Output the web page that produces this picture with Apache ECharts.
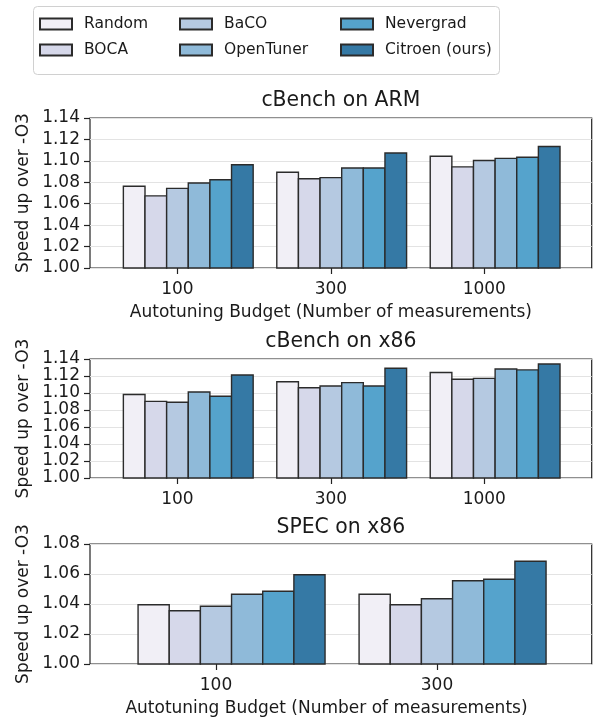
<!DOCTYPE html>
<html>
<head>
<meta charset="utf-8">
<script src="https://cdn.jsdelivr.net/npm/echarts@6/dist/echarts.min.js"></script>
<style>
html,body{margin:0;padding:0;background:#fff;}
#chart{width:596px;height:719px;}
</style>
</head>
<body>
<div id="chart"></div>
<script>
// ---- data ----
const methods = ['Random', 'BOCA', 'BaCO', 'OpenTuner', 'Nevergrad', 'Citroen (ours)'];
const colors = ['#f1eff6', '#d6d8ea', '#b5c9e1', '#8fbad9', '#55a3cc', '#3579a5'];

const cbenchBudgets = ['100', '300', '1000'];
const specBudgets = ['100', '300'];

const armTicks = ['1.00', '1.02', '1.04', '1.06', '1.08', '1.10', '1.12', '1.14'];
const specTicks = ['1.00', '1.02', '1.04', '1.06', '1.08'];

// cBench on ARM
const armRandom    = [1.077, 1.090, 1.105];
const armBOCA      = [1.068, 1.084, 1.095];
const armBaCO      = [1.075, 1.085, 1.101];
const armOpenTuner = [1.080, 1.094, 1.103];
const armNevergrad = [1.083, 1.094, 1.104];
const armCitroen   = [1.097, 1.108, 1.114];

// cBench on x86
const x86Random    = [1.099, 1.114, 1.125];
const x86BOCA      = [1.091, 1.107, 1.117];
const x86BaCO      = [1.090, 1.109, 1.118];
const x86OpenTuner = [1.102, 1.113, 1.129];
const x86Nevergrad = [1.097, 1.109, 1.128];
const x86Citroen   = [1.122, 1.130, 1.135];

// SPEC on x86
const specRandom    = [1.040, 1.047];
const specBOCA      = [1.036, 1.040];
const specBaCO      = [1.039, 1.044];
const specOpenTuner = [1.047, 1.056];
const specNevergrad = [1.049, 1.057];
const specCitroen   = [1.060, 1.069];

// ---- layout ----
const FONT = 'DejaVu Sans';
const TXT = '#1a1a1a';
const frameLeft = 90, frameRight = 4.3, frameW = 596 - frameLeft - frameRight;
const BORDER = 1.4;

const panels = [
  { title: 'cBench on ARM', top: 118, height: 150, cats: cbenchBudgets, min: 1.0, max: 1.14,
    ticks: armTicks,
    values: [armRandom, armBOCA, armBaCO, armOpenTuner, armNevergrad, armCitroen], xname: true, titleTop: 91 },
  { title: 'cBench on x86', top: 359, height: 119, cats: cbenchBudgets, min: 1.0, max: 1.14,
    ticks: armTicks,
    values: [x86Random, x86BOCA, x86BaCO, x86OpenTuner, x86Nevergrad, x86Citroen], xname: false, titleTop: 332 },
  { title: 'SPEC on x86', top: 544, height: 120, cats: specBudgets, min: 1.0, max: 1.08,
    ticks: specTicks,
    values: [specRandom, specBOCA, specBaCO, specOpenTuner, specNevergrad, specCitroen], xname: true, titleTop: 518 }
];

const grid = [], xAxis = [], yAxis = [], series = [], title = [];

panels.forEach((p, pi) => {
  const n = p.cats.length;
  // axis units: xlim = (-0.57, n-1+0.70)
  const span = (n - 1) + 0.57 + 0.70;
  const unit = frameW / span;
  const barsLeft = frameLeft + (0.57 - 0.5) * unit;
  const barsW = n * unit;
  const pitch = 0.141 * unit;
  const barW = pitch + BORDER;
  const barGap = (-BORDER / barW * 100).toFixed(3) + '%';
  const gA = pi * 2, gB = pi * 2 + 1;

  grid.push({ left: frameLeft, width: frameW, top: p.top, height: p.height,
    show: true, borderColor: '#222', borderWidth: 1.2, backgroundColor: 'transparent' });
  grid.push({ left: barsLeft, width: barsW, top: p.top, height: p.height });

  xAxis.push({ type: 'category', gridIndex: gA, data: p.cats, show: false });
  xAxis.push({
    type: 'category', gridIndex: gB, data: p.cats,
    axisLine: { show: false },
    axisTick: { show: true, alignWithLabel: true, length: 6, lineStyle: { color: '#222', width: 1.2 } },
    axisLabel: { color: TXT, fontFamily: FONT, fontSize: 17, margin: 13 },
    name: p.xname ? 'Autotuning Budget (Number of measurements)' : '',
    nameLocation: 'middle', nameGap: 36,
    nameTextStyle: { color: TXT, fontFamily: FONT, fontSize: 17 }
  });

  yAxis.push({
    type: 'value', gridIndex: gA, min: p.min, max: p.max, interval: 0.02,
    axisLine: { show: false },
    axisTick: { show: true, length: 6, lineStyle: { color: '#222', width: 1.2 } },
    axisLabel: { color: TXT, fontFamily: FONT, fontSize: 17, margin: 10,
      formatter: (v) => p.ticks[Math.round((v - p.min) / 0.02)] },
    splitLine: { show: true, lineStyle: { color: '#e3e3e3', width: 1.2 } },
    name: 'Speed up over -O3', nameLocation: 'middle', nameGap: 58, nameMoveOverlap: false,
    nameTextStyle: { color: TXT, fontFamily: FONT, fontSize: 17 }
  });
  yAxis.push({ type: 'value', gridIndex: gB, min: p.min, max: p.max, show: false, splitLine: { show: false } });

  title.push({ text: p.title, left: frameLeft + frameW / 2, top: p.titleTop, textAlign: 'center', padding: 0,
    textStyle: { color: TXT, fontFamily: FONT, fontSize: 20.4, fontWeight: 'normal' } });

  // empty leading slot of the dodge group
  series.push({ type: 'bar', name: '_slot', xAxisIndex: gB, yAxisIndex: gB, data: [],
    barWidth: barW, barGap: barGap });
  methods.forEach((m, mi) => {
    series.push({
      type: 'bar', name: m, xAxisIndex: gB, yAxisIndex: gB, data: p.values[mi],
      barWidth: barW, barGap: barGap,
      itemStyle: { color: colors[mi], borderColor: '#2b2b2b', borderWidth: BORDER },
      emphasis: { disabled: true }
    });
  });
});

const legendCommon = {
  orient: 'vertical', top: 16, itemGap: 10, itemWidth: 32, itemHeight: 11, padding: 0,
  icon: 'rect', selectedMode: false,
  textStyle: { color: TXT, fontFamily: FONT, fontSize: 15.5, lineHeight: 16, padding: [0, 0, 0, 7] }
};
const legend = [
  Object.assign({}, legendCommon, { left: 39, data: [methods[0], methods[1]] }),
  Object.assign({}, legendCommon, { left: 179, data: [methods[2], methods[3]] }),
  Object.assign({}, legendCommon, { left: 340, data: [methods[4], methods[5]] })
];

const chart = echarts.init(document.getElementById('chart'), null, { renderer: 'canvas' });
chart.setOption({
  animation: false,
  backgroundColor: '#fff',
  title, legend, grid, xAxis, yAxis, series,
  graphic: [{
    type: 'rect', left: 33, top: 6, z: -1,
    shape: { width: 466, height: 68, r: 4 },
    style: { fill: '#fff', stroke: '#d0d0d0', lineWidth: 1 }
  }]
});
</script>
</body>
</html>
